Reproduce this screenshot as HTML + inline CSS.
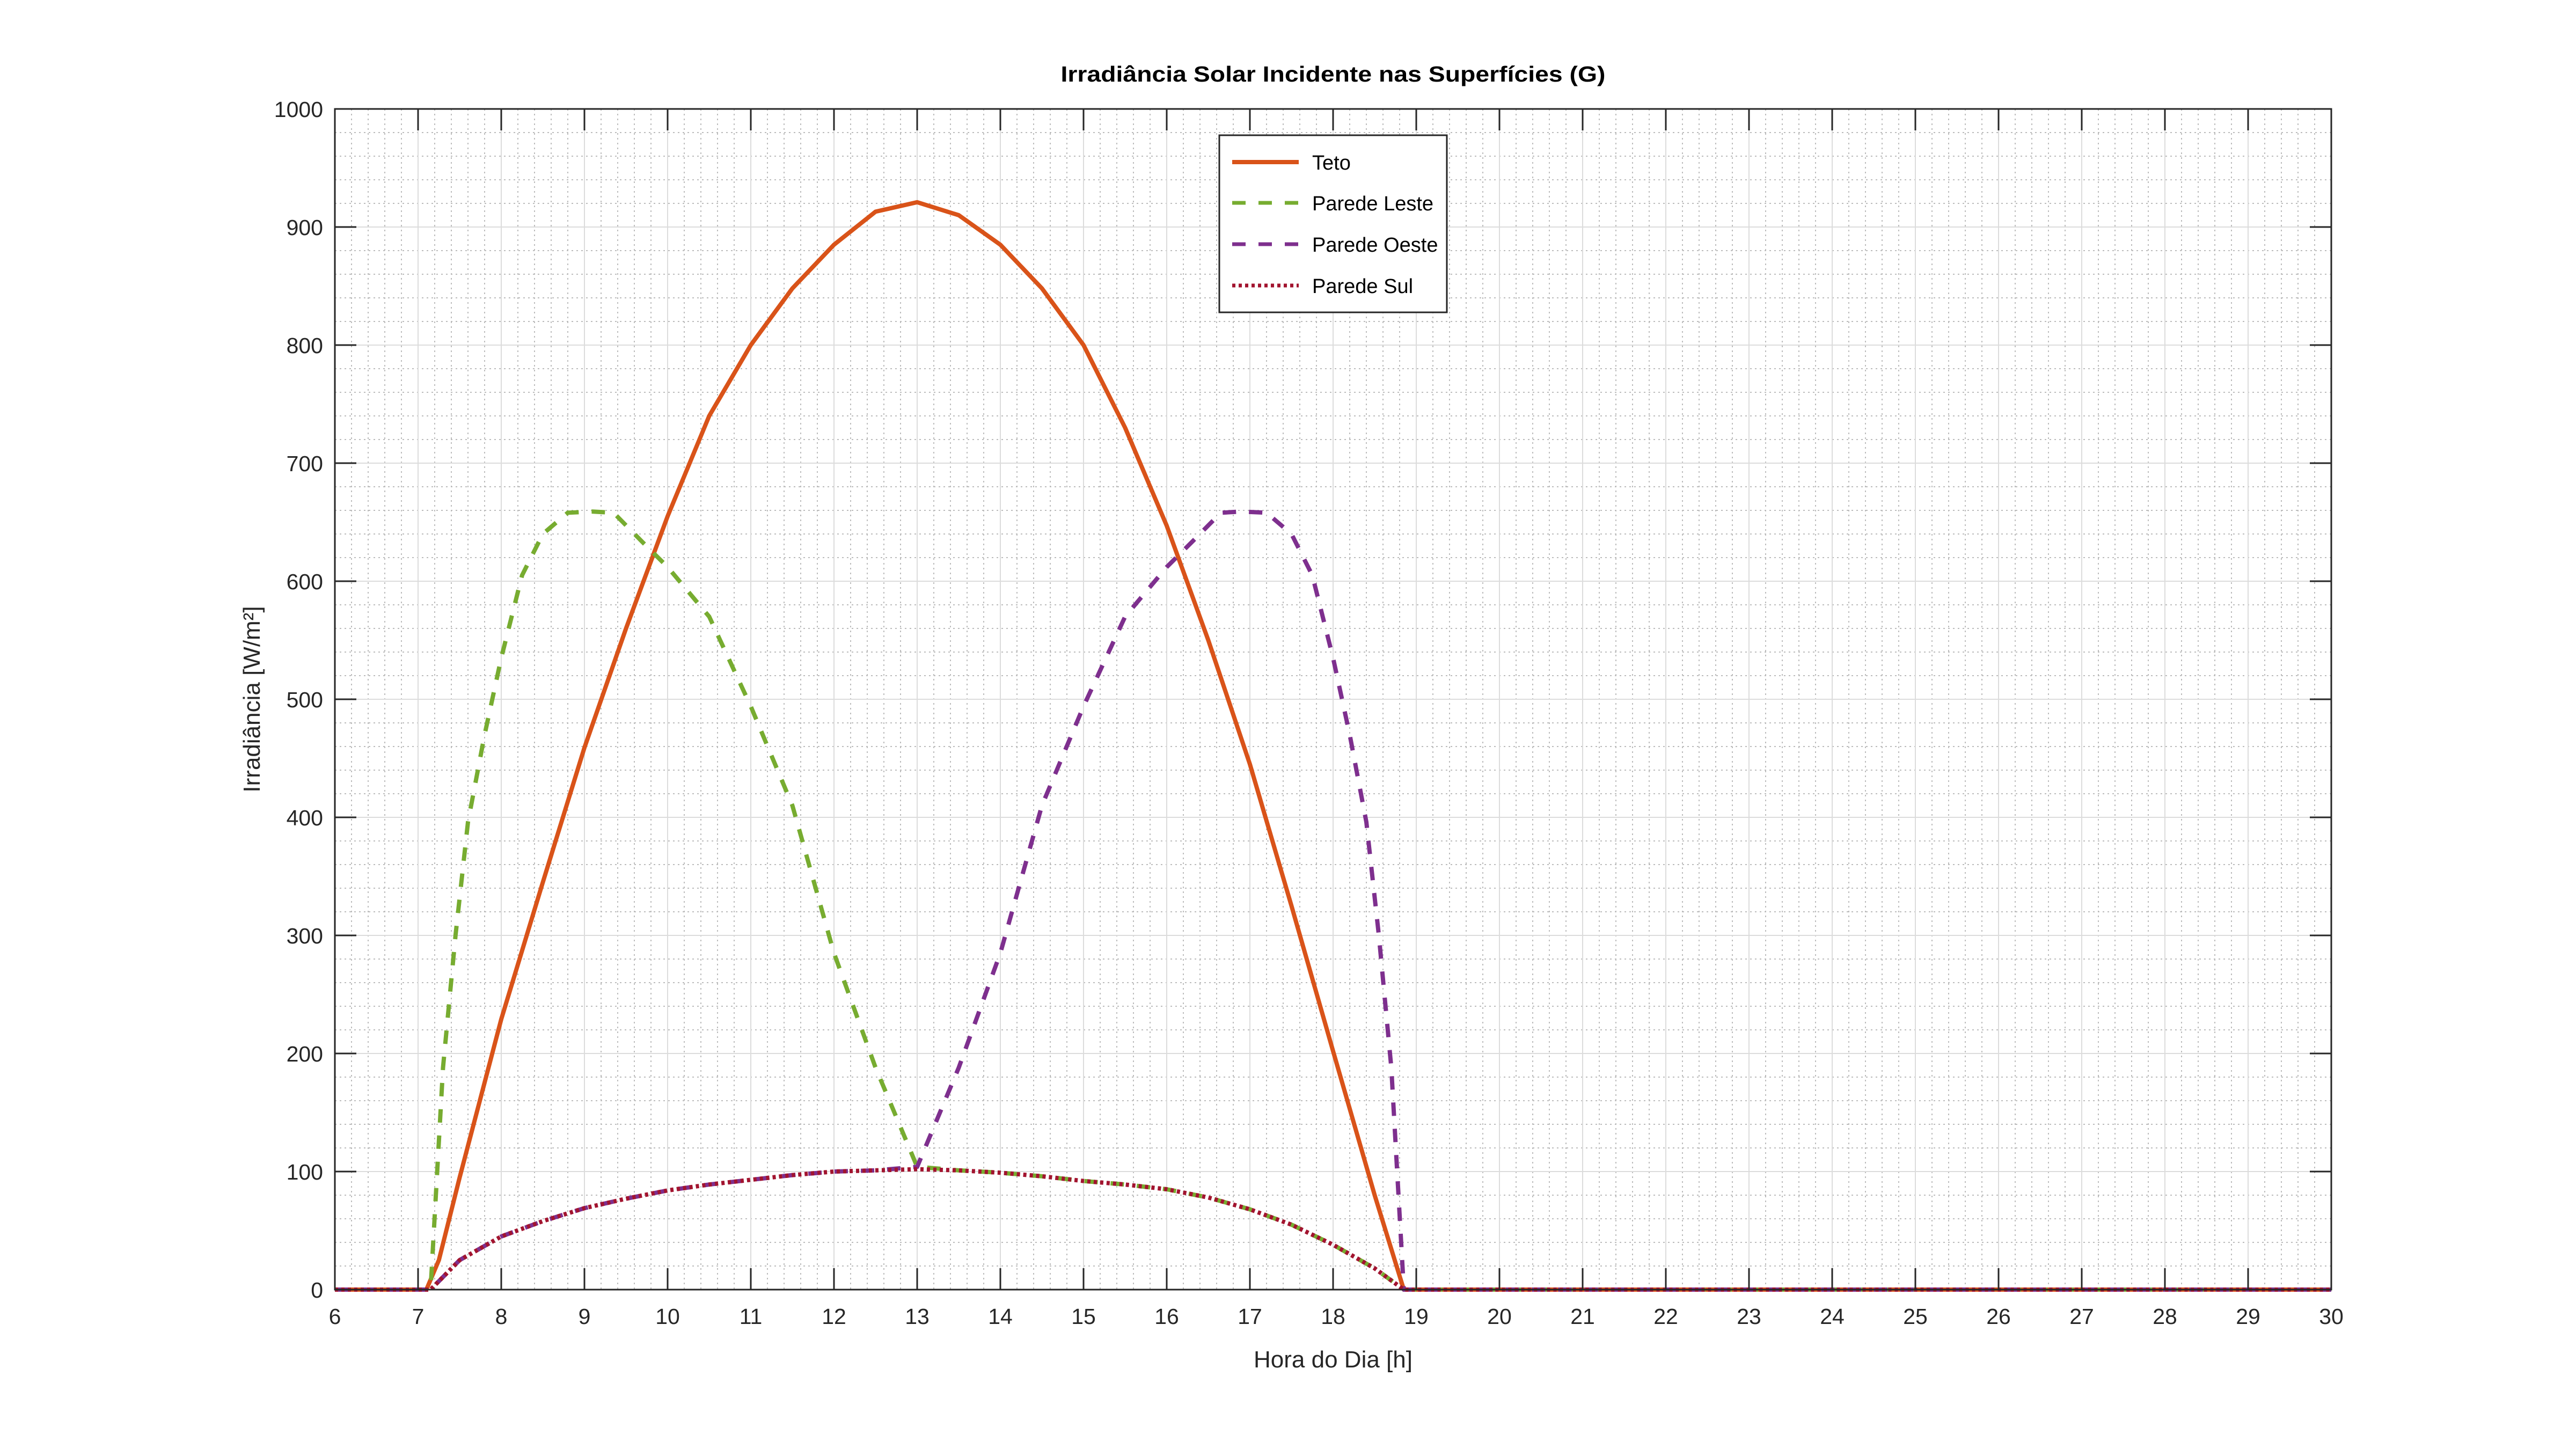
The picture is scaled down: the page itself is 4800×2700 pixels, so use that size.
<!DOCTYPE html>
<html><head><meta charset="utf-8"><style>
html,body{margin:0;padding:0;background:#fff}
svg{display:block;font-family:"Liberation Sans",sans-serif}
</style></head><body>
<svg id="chart" width="4800" height="2700" viewBox="0 0 4800 2700" xmlns="http://www.w3.org/2000/svg">
<rect x="0" y="0" width="4800" height="2700" fill="#fff"/>
<g id="grid"></g>
<g id="series"></g>
<g id="axes"></g>
<text x="2484" y="152" text-anchor="middle" font-size="41" font-weight="bold" fill="#000" textLength="1015" lengthAdjust="spacingAndGlyphs">Irradiância Solar Incidente nas Superfícies (G)</text>
<text x="2484" y="2548" text-anchor="middle" font-size="44" fill="#262626">Hora do Dia [h]</text>
<text transform="translate(484,1303) rotate(-90)" text-anchor="middle" font-size="44" fill="#262626">Irradiância [W/m²]</text>
<g id="legend">
<rect x="2272" y="252" width="424" height="330" fill="#fff" stroke="#262626" stroke-width="3"/>
<line x1="2296" y1="302" x2="2420" y2="302" stroke="#D95319" stroke-width="8"/>
<text x="2445" y="316" font-size="38" fill="#000">Teto</text>
<line x1="2296" y1="378" x2="2420" y2="378" stroke="#77AC30" stroke-width="7" stroke-dasharray="25,24"/>
<text x="2445" y="392" font-size="38" fill="#000">Parede Leste</text>
<line x1="2296" y1="455" x2="2420" y2="455" stroke="#7E2F8E" stroke-width="7" stroke-dasharray="25,24"/>
<text x="2445" y="469" font-size="38" fill="#000">Parede Oeste</text>
<line x1="2296" y1="532" x2="2420" y2="532" stroke="#A2142F" stroke-width="7" stroke-dasharray="6,6"/>
<text x="2445" y="546" font-size="38" fill="#000">Parede Sul</text>
</g>
</svg>
<script>
const xTicks = [6,7,8,9,10,11,12,13,14,15,16,17,18,19,20,21,22,23,24,25,26,27,28,29,30];
const yTicks = [0,100,200,300,400,500,600,700,800,900,1000];
const tetoHours  = [6,7.1,7.25,7.5,8,8.5,9,9.5,10,10.5,11,11.5,12,12.5,13,13.5,14,14.5,15,15.5,16,16.5,17,17.5,18,18.5,18.85,19,30];
const tetoValues = [0,0,25,95,229,345,459,560,655,740,800,848,885,913,921,910,885,848,800,730,647,550,445,325,202,80,0,0,0];
const lesteHours  = [6,7.15,7.3,7.45,7.6,7.8,8,8.25,8.5,8.8,9.1,9.35,9.7,10,10.5,11,11.5,12,12.5,13,13.5,14,14.5,15,15.5,16,16.5,17,17.5,18,18.5,18.85,19,30];
const lesteValues = [0,0,188,300,396,470,535,605,640,658,659,658,633,612,570,494,410,285,188,104,101,99,96,92,89,85,78,68,55,38,18,0,0,0];
const oesteHours  = [6,7.15,7.5,8,8.5,9,9.5,10,10.5,11,11.5,12,12.5,13,13.5,14,14.5,15,15.5,16,16.3,16.65,16.9,17.2,17.5,17.75,18,18.2,18.4,18.55,18.7,18.85,19,30];
const oesteValues = [0,0,25,45,58,69,77,84,89,93,97,100,101,104,188,285,410,494,570,612,633,658,659,658,640,605,535,470,396,300,188,0,0,0];
const sulHours  = [6,7.15,7.5,8,8.5,9,9.5,10,10.5,11,11.5,12,12.5,13,13.5,14,14.5,15,15.5,16,16.5,17,17.5,18,18.5,18.85,19,30];
const sulValues = [0,0,25,45,58,69,77,84,89,93,97,100,101,102,101,99,96,92,89,85,78,68,55,38,18,0,0,0];

const L=624,R=4344,T=203,B=2403;
const xS=h=>L+(h-6)*(R-L)/24;
const yS=v=>B-v*(B-T)/1000;
const NS='http://www.w3.org/2000/svg';
function mk(tag,attrs,parent){const e=document.createElementNS(NS,tag);for(const k in attrs)e.setAttribute(k,attrs[k]);parent.appendChild(e);return e;}
const grid=document.getElementById('grid'),axes=document.getElementById('axes'),series=document.getElementById('series');
for(let i=0;i<=120;i++){if(i%5===0)continue;const x=xS(6+i*0.2);
const g=mk('line',{x1:x,y1:T,x2:x,y2:B,stroke:'#bcbcbc','stroke-width':2,'stroke-dasharray':'3,6'},grid);

}
for(let i=0;i<=50;i++){if(i%5===0)continue;const y=yS(i*20);
const g=mk('line',{x1:L,y1:y,x2:R,y2:y,stroke:'#bcbcbc','stroke-width':2,'stroke-dasharray':'3,6'},grid);

}
xTicks.forEach(t=>{const x=xS(t);
const g=mk('line',{x1:x,y1:T,x2:x,y2:B,stroke:'#dcdcdc','stroke-width':2},grid);


const tk=mk('path',{d:`M${x},${B}v-40M${x},${T}v40`,stroke:'#262626','stroke-width':3},axes);


const lb=mk('text',{x:x,y:2467,'text-anchor':'middle','font-size':41,fill:'#262626'},axes);lb.textContent=t;

});
yTicks.forEach(t=>{const y=yS(t);
const g=mk('line',{x1:L,y1:y,x2:R,y2:y,stroke:'#dcdcdc','stroke-width':2},grid);


const tk=mk('path',{d:`M${L},${y}h40M${R},${y}h-40`,stroke:'#262626','stroke-width':3},axes);


const lb=mk('text',{x:602,y:y+15,'text-anchor':'end','font-size':41,fill:'#262626'},axes);lb.textContent=t;

});
const box=mk('rect',{x:L,y:T,width:R-L,height:B-T,fill:'none',stroke:'#262626','stroke-width':3},axes);


function line(hs,vs,color,dash,name){
const pts=hs.map((h,i)=>xS(h).toFixed(1)+','+yS(vs[i]).toFixed(1)).join(' ');
const a={points:pts,fill:'none',stroke:color,'stroke-width':8,'stroke-linejoin':'round'};
if(dash)a['stroke-dasharray']=dash;
const p=mk('polyline',a,series);

}
line(tetoHours,tetoValues,'#D95319',null,'teto-line');
line(lesteHours,lesteValues,'#77AC30','25,24','parede-leste-line');
line(oesteHours,oesteValues,'#7E2F8E','25,24','parede-oeste-line');
line(sulHours,sulValues,'#A2142F','6,6','parede-sul-line');
</script>
</body></html>
